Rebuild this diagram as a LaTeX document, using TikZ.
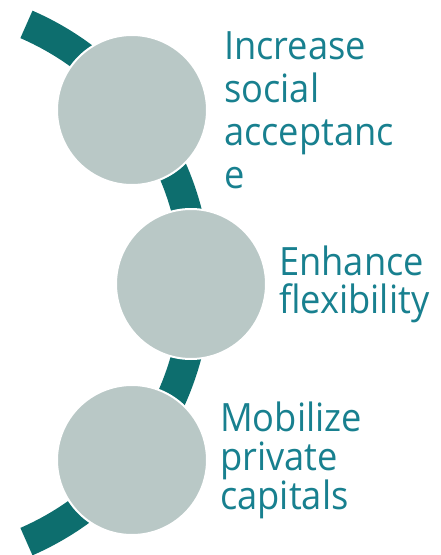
\documentclass[tikz,border=0pt]{standalone}
\usepackage{fontspec}
\setmainfont[FakeStretch=0.93]{Open Sans}
\usetikzlibrary{positioning}
\definecolor{ringteal}{RGB}{13,110,110}
\definecolor{discgray}{RGB}{185,200,198}
\definecolor{labelteal}{RGB}{24,128,143}
\tikzset{
  ring/.style={draw=ringteal, line width=30pt},
  disc/.style={circle, fill=discgray, draw=white, line width=2pt, minimum size=150pt, inner sep=0pt},
  goal/.style={text=labelteal, align=left, inner sep=0pt, font=\fontsize{39}{#1}\selectfont},
  goal/.default=39
}

\begin{document}
\begin{tikzpicture}[x=1pt, y=-1pt]
		\useasboundingbox (0,0) rectangle (440,555);
		%\draw[help lines, step=50] (0,0) grid (440,555);
		\coordinate (o) at (-86,283);
		\draw[ring] ([shift={(-66.5:282)}]o) arc[start angle=-66.5, end angle=66.5, radius=282];
		\node[disc] (c1) at (132,110) {};
		\node[disc] (c2) at (191,284) {};
		\node[disc] (c3) at (132,460) {};
		\node[goal=43, right=16pt of c1] (g1) {Increase\\social\\acceptanc\\e};
		\node[goal=38, right=12pt of c2] (g2) {Enhance\\flexibility};
		\node[goal=39, right=12pt of c3] (g3) {Mobilize\\private\\capitals};
		\end{tikzpicture}
\end{document}
